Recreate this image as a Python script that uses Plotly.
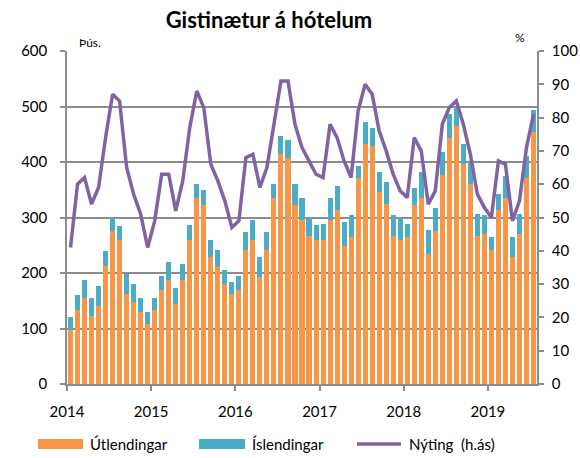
import plotly.graph_objects as go

# ---- data (monthly, Jan 2014 - Jul 2019) ----
years = ["2014", "2015", "2016", "2017", "2018", "2019"]

utlendingar = [
    98, 134, 155, 123, 141, 213, 275, 260, 163, 148, 130, 108,
    134, 170, 188, 145, 188, 260, 336, 322, 228, 210, 181, 163,
    170, 242, 260, 192, 242, 336, 415, 408, 322, 296, 267, 260,
    260, 296, 314, 249, 264, 372, 433, 429, 346, 325, 267, 260,
    264, 322, 336, 235, 275, 376, 444, 465, 396, 360, 267, 271,
    242, 314, 336, 228, 271, 372, 454,
]
islendingar = [
    22, 26, 33, 32, 36, 26, 24, 25, 36, 33, 25, 22,
    21, 25, 32, 28, 29, 26, 24, 27, 32, 32, 25, 21,
    25, 32, 35, 36, 32, 24, 32, 32, 38, 39, 33, 26,
    29, 39, 43, 43, 40, 21, 39, 32, 36, 39, 37, 40,
    25, 32, 46, 43, 43, 42, 43, 35, 37, 38, 40, 33,
    22, 29, 39, 36, 36, 39, 40,
]
nyting = [
    41, 60, 62, 54, 59, 74, 87, 85, 65, 57, 51, 41,
    49, 63, 63, 52, 61, 77, 88, 83, 66, 61, 55, 47,
    49, 68, 69, 59, 65, 78, 91, 91, 78, 71, 67, 63,
    62, 78, 74, 67, 62, 82, 90, 87, 76, 70, 63, 58,
    56, 74, 70, 54, 58, 78, 83, 85, 78, 69, 57, 53,
    50, 67, 66, 49, 55, 71, 81,
]

months = list(range(len(utlendingar)))
year_ticks = [12 * i - 0.5 for i in range(len(years))]

ORANGE = "#F79646"
TEAL = "#4BACC6"
PURPLE = "#8064A2"
GRID = "#8C8C8C"
FONT = "Lato"

W, H = 580, 458
L, R, T, B = 67, 43, 51, 74

fig = go.Figure()
fig.add_trace(go.Bar(x=months, y=utlendingar, name="Útlendingar",
                     marker=dict(color=ORANGE, line=dict(width=0)), width=0.72))
fig.add_trace(go.Bar(x=months, y=islendingar, name="Íslendingar",
                     marker=dict(color=TEAL, line=dict(width=0)), width=0.72))
fig.add_trace(go.Scatter(x=months, y=nyting, name="Nýting  (h.ás)", yaxis="y2",
                         mode="lines", line=dict(color=PURPLE, width=3.5)))

def px_x(px):
    return (px - L) / (W - L - R)

def px_y(py):
    return (H - B - py) / (H - T - B)

shapes = []
annotations = []
legend_items = [
    (38, 83, "rect", ORANGE, 88, "Útlendingar"),
    (199, 245, "rect", TEAL, 250, "Íslendingar"),
    (357, 401, "line", PURPLE, 407, "Nýting  (h.ás)"),
]
ly = 444
for x0, x1, kind, col, tx, label in legend_items:
    if kind == "rect":
        shapes.append(dict(type="rect", xref="paper", yref="paper",
                           x0=px_x(x0), x1=px_x(x1), y0=px_y(ly + 5), y1=px_y(ly - 5),
                           fillcolor=col, line=dict(width=0)))
    else:
        shapes.append(dict(type="line", xref="paper", yref="paper",
                           x0=px_x(x0), x1=px_x(x1), y0=px_y(ly), y1=px_y(ly),
                           line=dict(color=col, width=3.5)))
    annotations.append(dict(xref="paper", yref="paper", x=px_x(tx), y=px_y(ly),
                            text=label, showarrow=False, xanchor="left", yanchor="middle",
                            font=dict(family=FONT, size=15, color="#000000")))

annotations.append(dict(xref="paper", yref="paper", x=px_x(77), y=px_y(42),
                        text="Þús.", showarrow=False, xanchor="left", yanchor="middle",
                        font=dict(family=FONT, size=12, color="#000000")))
annotations.append(dict(xref="paper", yref="paper", x=px_x(520), y=px_y(37),
                        text="%", showarrow=False, xanchor="center", yanchor="middle",
                        font=dict(family=FONT, size=12, color="#000000")))

fig.update_layout(
    width=W, height=H,
    margin=dict(l=L, r=R, t=T, b=B, autoexpand=False),
    paper_bgcolor="white", plot_bgcolor="white",
    barmode="stack", bargap=0.28,
    showlegend=False,
    title=dict(text="<b>Gistinætur á hótelum</b>", x=(162 + 376) / 2 / W, xanchor="center",
               y=1 - 20 / H, yanchor="middle",
               font=dict(family=FONT, size=22, color="#000000")),
    font=dict(family=FONT, size=15, color="#000000"),
    xaxis=dict(range=[-0.5, len(months) - 0.5], tickvals=year_ticks, ticktext=years,
               showgrid=False, showline=True, linecolor=GRID, linewidth=1.5,
               ticks="outside", ticklen=5, tickcolor=GRID, tickwidth=1.5,
               ticklabelstandoff=8, zeroline=False, automargin=False,
               tickfont=dict(family=FONT, size=15)),
    yaxis=dict(range=[0, 600], dtick=100, showgrid=True, gridcolor=GRID, gridwidth=1.5,
               showline=True, linecolor=GRID, linewidth=1.5, zeroline=False,
               ticks="outside", ticklen=5, tickcolor=GRID, tickwidth=1.5, automargin=False,
               ticklabelstandoff=10, tickfont=dict(family=FONT, size=15)),
    yaxis2=dict(range=[0, 100], dtick=10, overlaying="y", side="right", showgrid=False,
                showline=True, linecolor=GRID, linewidth=1.5, zeroline=False,
                ticks="outside", ticklen=5, tickcolor=GRID, tickwidth=1.5, automargin=False,
                ticklabelstandoff=5, tickfont=dict(family=FONT, size=15)),
    shapes=shapes,
    annotations=annotations,
)

fig.write_html(
    "out.html",
    config={"displayModeBar": False},
    post_script="document.body.style.margin='0';document.body.style.padding='0';",
)
